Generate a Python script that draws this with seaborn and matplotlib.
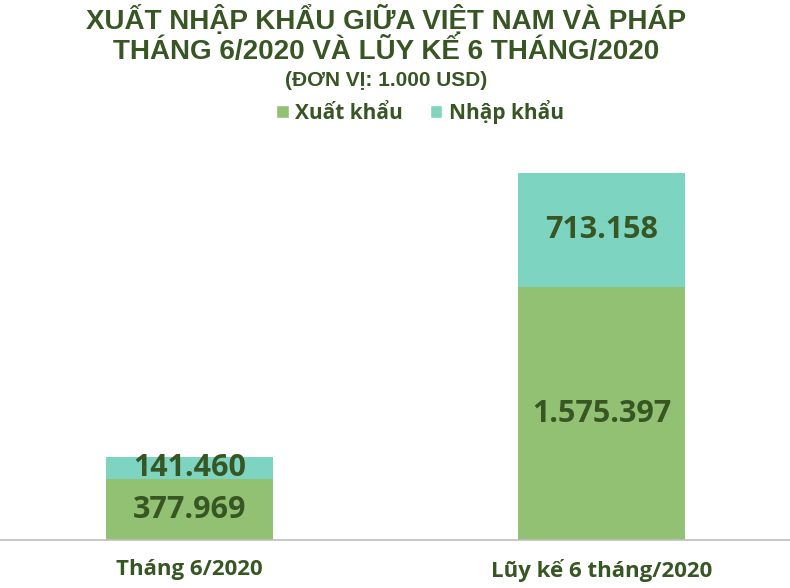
import matplotlib
matplotlib.use("Agg")
import matplotlib.pyplot as plt
import seaborn as sns
import pandas as pd
from matplotlib.patches import Patch

categories = ["Tháng 6/2020", "Lũy kế 6 tháng/2020"]
xuat_khau = [377969, 1575397]
nhap_khau = [141460, 713158]
xk_labels = ["377.969", "1.575.397"]
nk_labels = ["141.460", "713.158"]

C_XK = "#92C173"
C_NK = "#7DD4C0"
C_TXT = "#375623"

sns.set_theme(style="white")
plt.rcParams['font.family'] = ['DejaVu Sans']

df = pd.DataFrame({"cat": categories, "xk": xuat_khau, "nk": nhap_khau})
df["total"] = df["xk"] + df["nk"]

fig = plt.figure(figsize=(7.9, 5.88), dpi=100)
ax = fig.add_axes([0, 48/588, 1, (540-130)/588])

sns.barplot(data=df, x="cat", y="total", color=C_NK, width=0.405, ax=ax,
            saturation=1, linewidth=0)
sns.barplot(data=df, x="cat", y="xk", color=C_XK, width=0.405, ax=ax,
            saturation=1, linewidth=0)

ax.set_xlim(-0.459, 1.456)
ax.set_ylim(0, 2.557e6)
ax.set_yticks([])
ax.set_xlabel("")
ax.set_ylabel("")
for s in ["top", "left", "right"]:
    ax.spines[s].set_visible(False)
ax.spines["bottom"].set_color("#BFBFBF")
ax.spines["bottom"].set_linewidth(1.2)
ax.tick_params(axis="x", length=0, pad=14)
ax.set_xticks(range(len(categories)))
ax.set_xticklabels(categories, fontsize=16, fontweight="bold", color=C_TXT,
                   family=["Open Sans", "DejaVu Sans"])

lab_font = dict(fontsize=22, fontweight="bold", color=C_TXT,
                family=["Open Sans", "DejaVu Sans"], ha="center", va="center")
for i in range(len(categories)):
    ax.text(i, xuat_khau[i] / 2, xk_labels[i], **lab_font)
    ax.text(i, xuat_khau[i] + nhap_khau[i] / 2, nk_labels[i], **lab_font)

title_font = dict(fontweight="bold", color=C_TXT, ha="center", va="baseline",
                  family=["Liberation Sans", "DejaVu Sans"])
fig.text(386.5/790, 1 - 29.5/588, "XUẤT NHẬP KHẨU GIỮA VIỆT NAM VÀ PHÁP", fontsize=20, **title_font)
fig.text(386.5/790, 1 - 58.5/588, "THÁNG 6/2020 VÀ LŨY KẾ 6 THÁNG/2020", fontsize=20, **title_font)
fig.text(386.5/790, 1 - 86/588, "(ĐƠN VỊ: 1.000 USD)", fontsize=15, **title_font)

handles = [Patch(facecolor=C_XK, label="Xuất khẩu"), Patch(facecolor=C_NK, label="Nhập khẩu")]
fig.legend(handles=handles, loc="center", bbox_to_anchor=(420/790, 1 - 112/588), ncol=2,
           frameon=False, prop=dict(family=["Open Sans", "DejaVu Sans"], size=15, weight="bold"),
           labelcolor=C_TXT, handlelength=0.6, handleheight=0.6, handletextpad=0.3,
           columnspacing=1.3)

fig.savefig("out.png", dpi=100)
